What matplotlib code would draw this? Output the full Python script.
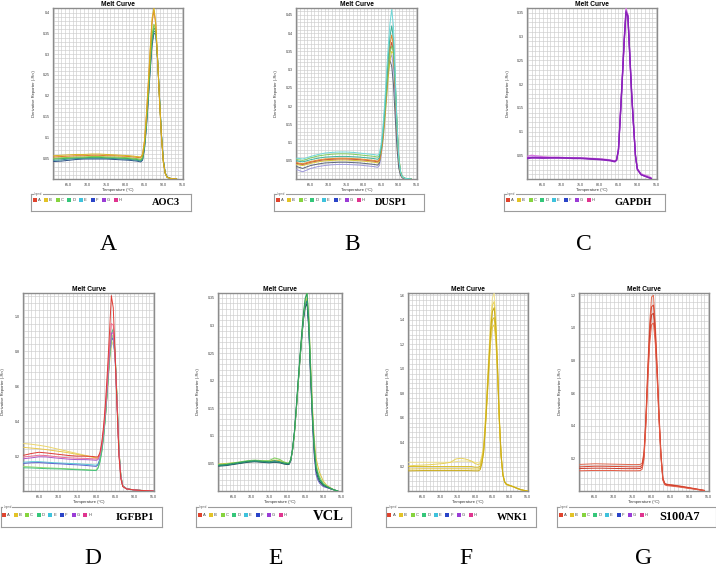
import matplotlib
matplotlib.use('Agg')
import matplotlib.pyplot as plt
from matplotlib import font_manager
from matplotlib.ticker import MultipleLocator, FixedLocator
from matplotlib.patches import Rectangle

# ---------------------------------------------------------------- data
XTICKS = [65, 70, 75, 80, 85, 90, 95]
XTICKLABELS = ["65.0", "70.0", "75.0", "80.0", "85.0", "90.0", "95.0"]
WELLS = ["A", "B", "C", "D", "E", "F", "G", "H"]

# AOC3
AOC3_TEMP = [61, 63, 65, 67, 69, 71, 73, 75, 77, 79, 81, 83, 84, 84.5, 85, 85.5, 86, 86.5, 87, 87.5, 88, 88.5, 89, 89.5, 90, 90.5, 91, 92, 93.5]
AOC3_A = [0.053,0.054,0.055,0.056,0.056,0.057,0.057,0.056,0.056,0.055,0.054,0.052,0.051, 0.058,0.09,0.15,0.225,0.305,0.375,0.405,0.37,0.28,0.185,0.1,0.04,0.013,0.004, 0.001,0.0]
AOC3_B = [0.056,0.057,0.058,0.059,0.059,0.06,0.06,0.059,0.058,0.057,0.056,0.054,0.053, 0.06,0.092,0.153,0.23,0.31,0.385,0.412,0.375,0.285,0.188,0.102,0.041,0.013,0.004, 0.001,0.0]
AOC3_C = [0.05,0.051,0.052,0.053,0.053,0.054,0.054,0.053,0.053,0.052,0.051,0.049,0.047, 0.052,0.082,0.138,0.208,0.282,0.345,0.372,0.36,0.285,0.19,0.104,0.042,0.014,0.004, 0.001,0.0]
AOC3_D = [0.048,0.049,0.05,0.051,0.051,0.052,0.052,0.051,0.051,0.05,0.049,0.047,0.045, 0.05,0.078,0.132,0.2,0.274,0.337,0.364,0.355,0.283,0.19,0.104,0.043,0.014,0.004, 0.001,0.0]
AOC3_E = [0.045,0.046,0.048,0.049,0.05,0.05,0.05,0.05,0.049,0.048,0.047,0.045,0.043, 0.047,0.074,0.126,0.192,0.264,0.327,0.356,0.352,0.285,0.194,0.107,0.045,0.015,0.005, 0.001,0.0]
AOC3_F = [0.042,0.043,0.045,0.047,0.048,0.048,0.048,0.048,0.047,0.046,0.045,0.043,0.041, 0.045,0.071,0.121,0.186,0.257,0.32,0.35,0.348,0.283,0.193,0.107,0.045,0.015,0.005, 0.001,0.0]

# DUSP1
DUSP1_TEMP = [61, 62, 62.7, 63.5, 65, 67, 69, 71, 73, 75, 77, 79, 81, 83, 84, 84.5, 85, 85.5, 86, 86.5, 87, 87.5, 88, 88.5, 89, 89.5, 90, 90.5, 91, 92, 93.5]
DUSP1_E = [0.057,0.056,0.055,0.057,0.062,0.067,0.071,0.073,0.074,0.074,0.073,0.071,0.069,0.067, 0.065,0.07,0.095,0.14,0.205,0.285,0.36,0.425,0.465,0.42,0.29,0.155,0.06,0.02,0.006, 0.001,0.0]
DUSP1_C = [0.053,0.052,0.051,0.053,0.058,0.063,0.066,0.068,0.069,0.069,0.068,0.066,0.064,0.062, 0.06,0.064,0.085,0.122,0.175,0.24,0.3,0.345,0.365,0.35,0.27,0.155,0.065,0.022,0.007, 0.001,0.0]
DUSP1_D = [0.05,0.048,0.047,0.049,0.053,0.057,0.06,0.061,0.062,0.062,0.061,0.06,0.058,0.056, 0.054,0.059,0.085,0.128,0.188,0.26,0.33,0.39,0.42,0.385,0.275,0.15,0.058,0.019,0.006, 0.001,0.0]
DUSP1_A = [0.045,0.043,0.042,0.044,0.048,0.052,0.055,0.056,0.057,0.057,0.056,0.055,0.053,0.051, 0.049,0.054,0.08,0.12,0.177,0.245,0.312,0.37,0.395,0.365,0.26,0.143,0.055,0.018,0.005, 0.001,0.0]
DUSP1_H = [0.043,0.041,0.04,0.042,0.046,0.05,0.053,0.054,0.055,0.055,0.054,0.053,0.051,0.049, 0.047,0.052,0.077,0.115,0.17,0.235,0.3,0.353,0.375,0.35,0.252,0.14,0.054,0.018,0.005, 0.001,0.0]
DUSP1_B = [0.04,0.038,0.037,0.039,0.043,0.047,0.05,0.051,0.052,0.052,0.051,0.05,0.048,0.046, 0.044,0.048,0.07,0.105,0.155,0.215,0.275,0.325,0.35,0.345,0.265,0.155,0.062,0.021,0.006, 0.001,0.0]
DUSP1_F = [0.034,0.031,0.029,0.032,0.037,0.041,0.044,0.045,0.046,0.046,0.045,0.044,0.042,0.04, 0.038,0.044,0.072,0.115,0.175,0.24,0.298,0.325,0.31,0.26,0.17,0.085,0.03,0.01,0.003, 0.001,0.0]
DUSP1_G = [0.026,0.022,0.02,0.023,0.029,0.034,0.037,0.039,0.04,0.04,0.039,0.038,0.036,0.034, 0.032,0.037,0.062,0.1,0.155,0.22,0.285,0.33,0.34,0.31,0.22,0.12,0.045,0.015,0.004, 0.001,0.0]

# GAPDH
GAPDH_TEMP = [61, 62, 63, 65, 67, 69, 71, 73, 75, 77, 79, 81, 83, 84, 84.5, 85, 85.5, 86, 86.5, 87, 87.5, 88, 88.5, 89, 89.5, 90, 91, 92, 93, 93.7]
GAPDH_G1 = [0.045,0.046,0.046,0.045,0.045,0.045,0.045,0.044,0.044,0.043,0.042,0.041,0.039,0.037, 0.04,0.062,0.135,0.21,0.29,0.355,0.34,0.255,0.175,0.11,0.048,0.02, 0.009,0.006,0.003,0.001]
GAPDH_G2 = [0.043,0.044,0.044,0.044,0.044,0.044,0.044,0.043,0.043,0.042,0.041,0.04,0.038,0.036, 0.039,0.06,0.13,0.205,0.285,0.35,0.345,0.265,0.182,0.114,0.05,0.021, 0.009,0.006,0.003,0.001]
GAPDH_H = [0.048,0.05,0.049,0.047,0.046,0.046,0.045,0.045,0.044,0.044,0.043,0.042,0.04,0.038, 0.041,0.064,0.138,0.213,0.295,0.36,0.345,0.26,0.178,0.112,0.05,0.022, 0.011,0.008,0.006,0.002]
GAPDH_G3 = [0.044,0.045,0.045,0.044,0.045,0.045,0.044,0.044,0.044,0.043,0.042,0.041,0.039,0.037, 0.04,0.061,0.132,0.208,0.288,0.352,0.342,0.26,0.178,0.112,0.049,0.02, 0.009,0.006,0.003,0.001]

# IGFBP1
IGFBP1_TEMP = [61, 63, 65, 67, 69, 71, 73, 75, 77, 79, 80, 80.5, 81, 81.5, 82, 82.5, 83, 83.5, 84, 84.5, 85, 85.5, 86, 86.5, 87, 88, 90, 92, 94, 95]
IGFBP1_B1 = [0.272,0.268,0.262,0.255,0.245,0.235,0.225,0.215,0.205,0.196, 0.19,0.19,0.205,0.25,0.33,0.44,0.58,0.73,0.83,0.86,0.77,0.53,0.24,0.09,0.03,0.013,0.006,0.003,0.001,0.0]
IGFBP1_B2 = [0.25,0.246,0.242,0.237,0.231,0.225,0.218,0.21,0.202,0.194, 0.188,0.19,0.21,0.26,0.345,0.46,0.6,0.76,0.86,0.88,0.78,0.52,0.23,0.085,0.03,0.013,0.006,0.003,0.001,0.0]
IGFBP1_A = [0.205,0.215,0.222,0.218,0.213,0.208,0.203,0.2,0.2,0.198, 0.195,0.196,0.22,0.28,0.38,0.52,0.7,0.9,1.12,1.05,0.78,0.48,0.2,0.07,0.025,0.012,0.006,0.003,0.001,0.0]
IGFBP1_H = [0.195,0.2,0.205,0.203,0.198,0.193,0.19,0.188,0.187,0.185, 0.183,0.185,0.21,0.27,0.36,0.49,0.65,0.83,0.96,0.95,0.77,0.5,0.21,0.075,0.027,0.012,0.006,0.003,0.001,0.0]
IGFBP1_G = [0.185,0.19,0.196,0.195,0.19,0.186,0.182,0.18,0.18,0.178, 0.176,0.18,0.205,0.26,0.35,0.47,0.62,0.79,0.9,0.91,0.76,0.5,0.22,0.08,0.028,0.012,0.006,0.003,0.001,0.0]
IGFBP1_E = [0.165,0.168,0.168,0.165,0.162,0.16,0.158,0.156,0.153,0.15, 0.148,0.155,0.185,0.24,0.33,0.45,0.6,0.76,0.87,0.88,0.76,0.5,0.22,0.08,0.028,0.012,0.006,0.003,0.001,0.0]
IGFBP1_F = [0.158,0.162,0.163,0.16,0.157,0.155,0.152,0.15,0.147,0.143, 0.141,0.15,0.18,0.24,0.33,0.45,0.6,0.76,0.86,0.88,0.76,0.51,0.23,0.085,0.03,0.013,0.006,0.003,0.001,0.0]
IGFBP1_C = [0.14,0.138,0.135,0.133,0.131,0.129,0.127,0.125,0.123,0.12, 0.12,0.135,0.17,0.23,0.32,0.44,0.59,0.75,0.87,0.9,0.78,0.52,0.23,0.085,0.03,0.013,0.006,0.003,0.001,0.0]
IGFBP1_D = [0.133,0.132,0.13,0.128,0.127,0.126,0.124,0.122,0.12,0.118, 0.117,0.13,0.165,0.225,0.315,0.44,0.6,0.77,0.9,0.93,0.79,0.52,0.23,0.08,0.028,0.012,0.006,0.003,0.001,0.0]

# VCL
VCL_TEMP = [61, 63, 65, 67, 69, 71, 73, 75, 76.5, 78, 79, 80, 80.5, 81, 81.5, 82, 82.5, 83, 83.5, 84, 84.5, 85, 85.5, 86, 86.5, 87, 87.5, 88, 88.5, 89, 90, 91, 92, 93, 94]
VCL_D = [0.047,0.048,0.05,0.052,0.054,0.055,0.054,0.053,0.055,0.053,0.051,0.05, 0.05,0.058,0.078,0.108,0.152,0.198,0.243,0.285,0.323,0.35,0.358,0.305,0.215,0.138,0.078,0.042,0.03,0.021, 0.012,0.008,0.005,0.002,0.0]
VCL_C = [0.048,0.049,0.051,0.053,0.055,0.056,0.055,0.055,0.06,0.057,0.053,0.051, 0.051,0.057,0.075,0.103,0.145,0.19,0.235,0.278,0.318,0.345,0.36,0.315,0.225,0.145,0.083,0.048,0.035,0.025, 0.014,0.009,0.005,0.002,0.0]
VCL_E = [0.046,0.047,0.049,0.051,0.053,0.054,0.053,0.052,0.053,0.052,0.05,0.049, 0.049,0.056,0.076,0.106,0.148,0.193,0.237,0.277,0.313,0.338,0.345,0.3,0.215,0.14,0.08,0.045,0.03,0.02, 0.012,0.008,0.005,0.002,0.0]
VCL_F = [0.045,0.046,0.048,0.05,0.052,0.053,0.052,0.051,0.052,0.051,0.049,0.048, 0.048,0.055,0.075,0.105,0.146,0.19,0.234,0.274,0.31,0.333,0.34,0.292,0.205,0.13,0.07,0.037,0.025,0.017, 0.01,0.007,0.004,0.002,0.0]
VCL_B = [0.049,0.05,0.051,0.052,0.053,0.054,0.054,0.054,0.056,0.055,0.052,0.05, 0.05,0.056,0.075,0.104,0.146,0.191,0.236,0.278,0.315,0.34,0.35,0.31,0.228,0.155,0.095,0.06,0.045,0.033, 0.018,0.01,0.006,0.002,0.0]
VCL_G = [0.046,0.047,0.049,0.051,0.053,0.054,0.053,0.052,0.053,0.052,0.05,0.049, 0.049,0.056,0.076,0.106,0.148,0.193,0.237,0.277,0.313,0.338,0.345,0.295,0.205,0.125,0.063,0.03,0.02,0.014, 0.008,0.006,0.004,0.002,0.0]

# WNK1
WNK1_TEMP = [61, 63, 65, 67, 69, 71, 73, 74.5, 76, 77.5, 79, 80, 81, 81.5, 82, 82.5, 83, 83.5, 84, 84.5, 85, 85.5, 86, 86.5, 87, 87.5, 88, 88.5, 89, 90, 91, 92, 93, 94, 95]
WNK1_1 = [0.235,0.235,0.235,0.235,0.235,0.235,0.235,0.24,0.245,0.245,0.24,0.235,0.232, 0.24,0.29,0.38,0.6,0.86,1.14,1.4,1.58,1.62,1.4,1.02,0.6,0.3,0.14,0.08,0.06, 0.047,0.037,0.024,0.013,0.006,0.0]
WNK1_2 = [0.205,0.21,0.212,0.215,0.22,0.225,0.235,0.262,0.268,0.26,0.245,0.225,0.215, 0.225,0.275,0.37,0.58,0.83,1.1,1.35,1.52,1.55,1.36,1.0,0.58,0.29,0.135,0.075,0.055, 0.045,0.035,0.023,0.012,0.005,0.0]
WNK1_3 = [0.2,0.2,0.2,0.2,0.2,0.2,0.2,0.2,0.2,0.2,0.2,0.195,0.195, 0.205,0.25,0.34,0.54,0.78,1.03,1.27,1.4,1.42,1.27,0.95,0.56,0.28,0.13,0.073,0.054, 0.044,0.034,0.022,0.012,0.005,0.0]
WNK1_4 = [0.18,0.181,0.182,0.182,0.182,0.182,0.182,0.182,0.182,0.182,0.181,0.18,0.18, 0.19,0.235,0.325,0.52,0.75,0.99,1.22,1.34,1.36,1.22,0.92,0.55,0.28,0.13,0.072,0.053, 0.043,0.033,0.022,0.012,0.005,0.0]
WNK1_5 = [0.165,0.166,0.167,0.167,0.167,0.167,0.167,0.167,0.167,0.167,0.166,0.165,0.165, 0.175,0.225,0.32,0.53,0.79,1.06,1.32,1.47,1.5,1.33,0.98,0.58,0.29,0.135,0.075,0.055, 0.045,0.035,0.023,0.012,0.005,0.0]

# S100A7
S100A7_TEMP = [61, 63, 65, 67, 69, 71, 73, 75, 76, 77, 77.5, 78, 78.5, 79, 79.5, 80, 80.5, 81, 81.5, 82, 82.5, 83, 83.5, 84, 86, 88, 90, 92, 93, 94]
S100A7_1 = [0.163,0.165,0.167,0.166,0.165,0.164,0.163,0.162,0.162,0.163, 0.17,0.24,0.46,0.76,1.03,1.19,1.2,1.02,0.76,0.47,0.23,0.08,0.048,0.042,0.036,0.029,0.021,0.013,0.008,0.004]
S100A7_2 = [0.148,0.15,0.152,0.152,0.151,0.15,0.149,0.148,0.148,0.149, 0.158,0.225,0.44,0.73,0.98,1.13,1.14,0.98,0.73,0.45,0.22,0.075,0.045,0.04,0.034,0.027,0.019,0.011,0.007,0.003]
S100A7_3 = [0.138,0.139,0.14,0.14,0.139,0.138,0.137,0.137,0.137,0.138, 0.146,0.21,0.42,0.7,0.94,1.08,1.09,0.94,0.7,0.43,0.21,0.07,0.042,0.037,0.032,0.025,0.018,0.01,0.006,0.003]
S100A7_4 = [0.124,0.125,0.126,0.126,0.126,0.125,0.124,0.124,0.124,0.125, 0.133,0.195,0.4,0.67,0.9,1.02,1.03,0.9,0.68,0.42,0.2,0.065,0.038,0.033,0.028,0.022,0.015,0.009,0.005,0.002]

# y axis tick labels per panel
AOC3_YT = [0.05, 0.1, 0.15, 0.2, 0.25, 0.3, 0.35, 0.4]
AOC3_YL = ["0.05", "0.1", "0.15", "0.2", "0.25", "0.3", "0.35", "0.4"]
DUSP1_YT = [0.05, 0.1, 0.15, 0.2, 0.25, 0.3, 0.35, 0.4, 0.45]
DUSP1_YL = ["0.05", "0.1", "0.15", "0.2", "0.25", "0.3", "0.35", "0.4", "0.45"]
GAPDH_YT = [0.05, 0.1, 0.15, 0.2, 0.25, 0.3, 0.35]
GAPDH_YL = ["0.05", "0.1", "0.15", "0.2", "0.25", "0.3", "0.35"]
IGFBP1_YT = [0.2, 0.4, 0.6, 0.8, 1.0]
IGFBP1_YL = ["0.2", "0.4", "0.6", "0.8", "1.0"]
VCL_YT = [0.05, 0.1, 0.15, 0.2, 0.25, 0.3, 0.35]
VCL_YL = ["0.05", "0.1", "0.15", "0.2", "0.25", "0.3", "0.35"]
WNK1_YT = [0.2, 0.4, 0.6, 0.8, 1.0, 1.2, 1.4, 1.6]
WNK1_YL = ["0.2", "0.4", "0.6", "0.8", "1.0", "1.2", "1.4", "1.6"]
S100A7_YT = [0.2, 0.4, 0.6, 0.8, 1.0, 1.2]
S100A7_YL = ["0.2", "0.4", "0.6", "0.8", "1.0", "1.2"]

# ---------------------------------------------------------------- style
WELL_COLORS = ['#e0432d', '#e3c327', '#86d43e', '#35c77a', '#3fc2dc', '#2a44c8', '#9a3cd6', '#e0348f']
plt.rcParams['font.family'] = ['Liberation Sans', 'DejaVu Sans']

W, H = 716, 568
fig = plt.figure(figsize=(W / 100, H / 100), dpi=100)
fig.patch.set_facecolor('white')

avail = {f.name for f in font_manager.fontManager.ttflist}
if 'Liberation Sans Narrow' in avail:
    LETTER_FAMILY, LETTER_SIZE = 'Liberation Sans Narrow', 19
else:
    LETTER_FAMILY, LETTER_SIZE = 'Liberation Serif', 17


def px_axes(x0, y0, x1, y1):
    return fig.add_axes([x0 / W, 1 - y1 / H, (x1 - x0) / W, (y1 - y0) / H])


def panel(box, temps, curves, colors, ymax, yt, yl, ystep, lw=0.7):
    ax = px_axes(*box)
    for vals, c in zip(curves, colors):
        ax.plot(temps, vals, color=c, lw=lw, solid_joinstyle='round', zorder=3)
    ax.set_xlim(60.8, 95.2)
    ax.set_ylim(0, ymax)
    ax.xaxis.set_major_locator(FixedLocator(XTICKS))
    ax.set_xticklabels(XTICKLABELS)
    ax.xaxis.set_minor_locator(MultipleLocator(1))
    ax.yaxis.set_major_locator(FixedLocator(yt))
    ax.set_yticklabels(yl)
    ax.yaxis.set_minor_locator(MultipleLocator(ystep))
    ax.grid(which='both', color='#cdcdcd', lw=0.45)
    ax.set_axisbelow(True)
    ax.tick_params(which='both', length=0, labelsize=2.6, labelcolor='#333333', pad=2.6)
    for s in ax.spines.values():
        s.set_color('#8c8c8c')
        s.set_linewidth(1.0)
    ax.set_title('Melt Curve', fontsize=4.8, fontweight='bold', pad=1.6)
    ax.set_xlabel('Temperature (°C)', fontsize=3, color='#333333')
    ax.set_ylabel("Derivative Reporter (-Rn')", fontsize=3, color='#333333')
    hpx = box[3] - box[1]
    wpx = box[2] - box[0]
    ax.xaxis.set_label_coords(0.5, -9.5 / hpx)
    ax.yaxis.set_label_coords(-17.5 / wpx, 0.5)
    return ax


def legend(box, gene, gsize, gx, sq_y, gy):
    x0, y0, x1, y1 = box
    lax = px_axes(*box)
    lax.set_xlim(x0, x1)
    lax.set_ylim(y1, y0)
    lax.set_xticks([])
    lax.set_yticks([])
    for s in lax.spines.values():
        s.set_color('#9c9c9c')
        s.set_linewidth(0.8)
    lax.text(x0 + 3, y0, 'Legend', fontsize=1.8, va='center', ha='left', color='#666666',
             bbox=dict(fc='white', ec='none', pad=0.3), zorder=5)
    for i, (lab, col) in enumerate(zip(WELLS, WELL_COLORS)):
        sx = x0 + 1.5 + i * 11.6
        lax.add_patch(Rectangle((sx, sq_y - 2), 4, 4, fc=col, ec='none'))
        lax.text(sx + 5, sq_y, lab, fontsize=3, va='center', ha='left', color='#444444')
    lax.text(gx, gy, gene, fontsize=gsize, fontweight='bold', family='Liberation Serif',
             ha='center', va='center', color='black')


# ---------------------------------------------------------------- panels
panel((53, 8, 183, 179), AOC3_TEMP,
      [AOC3_F, AOC3_E, AOC3_D, AOC3_C, AOC3_A, AOC3_B],
      ['#2b4f86', '#2f8f96', '#3cae5c', '#86c83e', '#e07a2a', '#d9b21e'],
      0.411, AOC3_YT, AOC3_YL, 0.01)
panel((296, 8, 417, 179), DUSP1_TEMP,
      [DUSP1_G, DUSP1_F, DUSP1_B, DUSP1_H, DUSP1_A, DUSP1_C, DUSP1_D, DUSP1_E],
      ['#9d98dc', '#5a6478', '#d8c838', '#c9503a', '#e28a2e', '#80cc5a', '#3ab49a', '#6fd8d8'],
      0.469, DUSP1_YT, DUSP1_YL, 0.01)
panel((527, 8, 657, 179), GAPDH_TEMP,
      [GAPDH_H, GAPDH_G1, GAPDH_G2, GAPDH_G3],
      ['#d77ae0', '#a13dd0', '#9027c4', '#8a22b8'],
      0.36, GAPDH_YT, GAPDH_YL, 0.01, lw=0.9)
panel((23, 293, 154, 491), IGFBP1_TEMP,
      [IGFBP1_B1, IGFBP1_B2, IGFBP1_E, IGFBP1_F, IGFBP1_C, IGFBP1_D, IGFBP1_G, IGFBP1_H, IGFBP1_A],
      ['#ecd66c', '#e8c84a', '#58c8d8', '#5a66d0', '#96dc6e', '#46c27e', '#b058c8', '#ef6f95', '#de3c34'],
      1.135, IGFBP1_YT, IGFBP1_YL, 0.04)
panel((218, 293, 342, 491), VCL_TEMP,
      [VCL_G, VCL_B, VCL_F, VCL_E, VCL_C, VCL_D],
      ['#6a60c8', '#d8c440', '#1f4f4f', '#25868a', '#7ed25c', '#2a9c5e'],
      0.359, VCL_YT, VCL_YL, 0.01)
panel((408, 293, 528, 491), WNK1_TEMP,
      [WNK1_1, WNK1_2, WNK1_3, WNK1_4, WNK1_5],
      ['#f0e290', '#e8d25a', '#d8bc22', '#e2c842', '#c9aa14'],
      1.62, WNK1_YT, WNK1_YL, 0.04)
panel((579, 293, 709, 491), S100A7_TEMP,
      [S100A7_1, S100A7_2, S100A7_3, S100A7_4],
      ['#e06a50', '#d8432e', '#c83a28', '#e45a44'],
      1.214, S100A7_YT, S100A7_YL, 0.04)

# ---------------------------------------------------------------- legends
legend((31, 194, 191, 211), 'AOC3', 7.5, 165.5, 200, 202.5)
legend((274, 194, 424, 211), 'DUSP1', 7.5, 391, 200, 202.5)
legend((504, 194, 665, 211), 'GAPDH', 7.5, 633, 200, 202.5)
legend((0.5, 507, 162, 527), 'IGFBP1', 7.8, 134.5, 514.5, 517)
legend((196, 507, 351, 527), 'VCL', 10.5, 328, 514.5, 517)
legend((386, 507, 536, 527), 'WNK1', 7.5, 512.5, 514.5, 518)
legend((557, 507, 715.5, 527), 'S100A7', 8.8, 680, 514.5, 517.5)

# ---------------------------------------------------------------- panel letters
for lab, (x, y) in zip(['A', 'B', 'C', 'D', 'E', 'F', 'G'],
                       [(108, 245), (352, 245), (584, 245), (93, 558), (276, 558), (466, 558), (644, 558)]):
    fig.text(x / W, 1 - y / H, lab, fontsize=LETTER_SIZE, family=LETTER_FAMILY,
             ha='center', va='center', color='black')

fig.savefig('out.png', dpi=100, facecolor='white')
